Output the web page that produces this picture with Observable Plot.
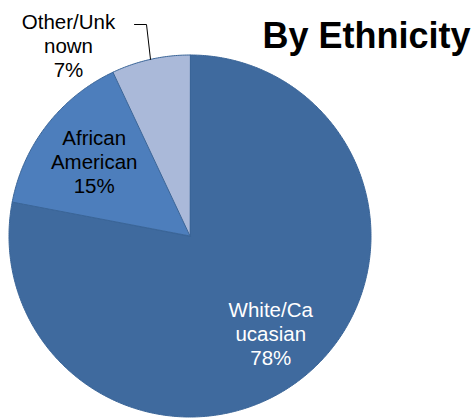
<!DOCTYPE html>
<html>
<head>
<meta charset="utf-8">
<script src="https://cdn.jsdelivr.net/npm/d3@7"></script>
<script src="https://cdn.jsdelivr.net/npm/@observablehq/plot@0.6"></script>
<style>
  html, body { margin: 0; padding: 0; background: #fff; }
  #chart { width: 474px; height: 418px; }
</style>
</head>
<body>
<div id="chart"></div>
<script>
// ---- data ----
const categories = ["White/Caucasian", "African American", "Other/Unknown"];
const values = [78, 15, 7];
const labelTexts = ["White/Ca\nucasian\n78%", "African\nAmerican\n15%", "Other/Unk\nnown\n7%"];
const colors = ["#3f6a9e", "#4d7ebc", "#aab9d9"];
const title = "By Ethnicity";

// ---- layout ----
const W = 474, H = 418;
const cx = 189.5, cy = 235.5, R = 181;

const pie = d3.pie().sort(null).value(d => d.value);
const arcs = pie(categories.map((c, i) => ({name: c, value: values[i], label: labelTexts[i], color: colors[i]})));

// slice polygons in unit-circle coordinates (angle 0 = top, clockwise)
function slicePoints(a) {
  const n = Math.max(4, Math.ceil((a.endAngle - a.startAngle) / 0.01));
  const pts = [{x: 0, y: 0}];
  for (let k = 0; k <= n; k++) {
    const t = a.startAngle + (a.endAngle - a.startAngle) * k / n;
    pts.push({x: Math.sin(t), y: Math.cos(t)});
  }
  return pts;
}
const mid = a => (a.startAngle + a.endAngle) / 2;

const insideFactor = [0.7, 0.67];
const labels = arcs.slice(0, 2).map((a, i) => ({
  x: Math.sin(mid(a)) * insideFactor[i],
  y: Math.cos(mid(a)) * insideFactor[i],
  text: a.data.label,
  fill: i === 0 ? "#ffffff" : "#000000"
}));

// outside label for the small slice, with a leader line to the arc midpoint
const small = arcs[2];
const outerPt = {x: Math.sin(mid(small)), y: Math.cos(mid(small))};
const outLabel = {x: (68 - cx) / R, y: (cy - 45) / R, text: small.data.label};
const leader = [
  {x: (134 - cx) / R, y: (cy - 24) / R},
  {x: (146 - cx) / R, y: (cy - 24) / R},
  outerPt
];

const chart = Plot.plot({
  width: W,
  height: H,
  margin: 0,
  x: {domain: [-cx / R, (W - cx) / R], range: [0, W], axis: null},
  y: {domain: [-(H - cy) / R, cy / R], range: [H, 0], axis: null},
  style: {fontFamily: "'Liberation Sans', Arial, sans-serif", background: "#fff"},
  marks: [
    ...arcs.map(a => Plot.line(slicePoints(a), {
      x: "x", y: "y", curve: "linear-closed",
      fill: a.data.color, stroke: "#3a6598", strokeWidth: 1
    })),
    Plot.text(labels, {
      x: "x", y: "y", text: "text", fill: "fill",
      fontSize: 20.5, lineHeight: 1.17, textAnchor: "middle", lineAnchor: "middle"
    }),
    Plot.line(leader, {x: "x", y: "y", stroke: "#000", strokeWidth: 1}),
    Plot.text([outLabel], {
      x: "x", y: "y", text: "text", fill: "#000",
      fontSize: 20.5, lineHeight: 1.17, textAnchor: "middle", lineAnchor: "middle"
    }),
    Plot.text([title], {
      frameAnchor: "top-right", dx: -4, dy: 22, lineAnchor: "top",
      fontSize: 36, fontWeight: "bold", fill: "#000"
    })
  ]
});
document.getElementById("chart").appendChild(chart);
</script>
</body>
</html>
